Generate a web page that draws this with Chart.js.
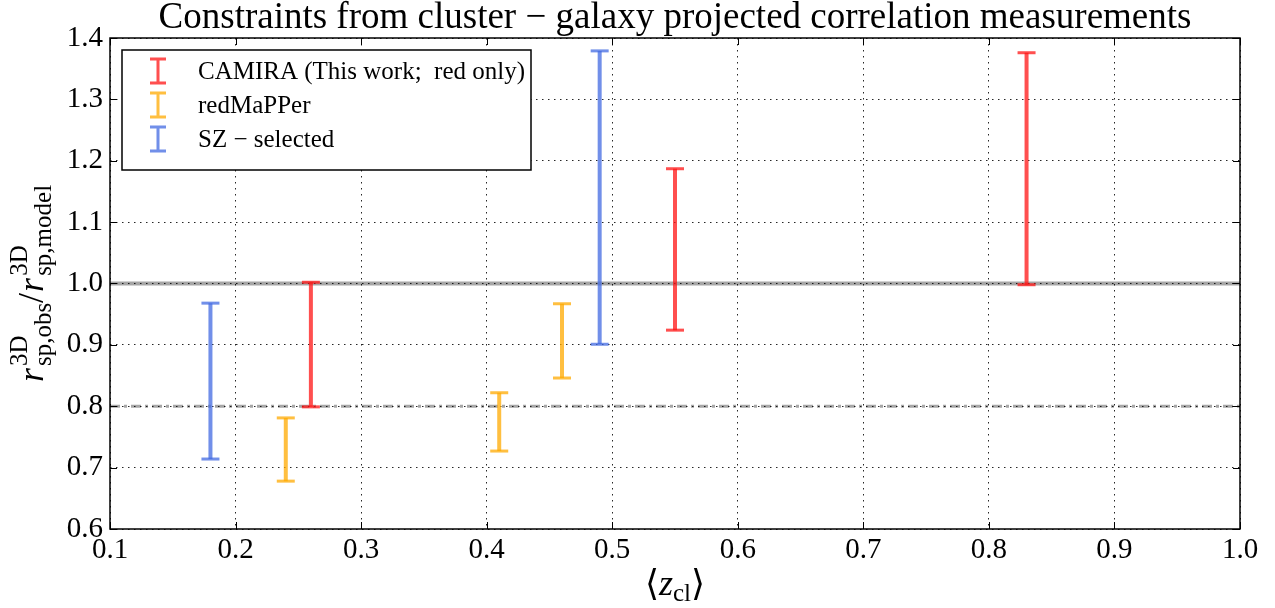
<!DOCTYPE html>
<html lang="en">
<head>
<meta charset="UTF-8">
<title>Constraints from cluster - galaxy projected correlation measurements</title>
<script src="https://cdn.jsdelivr.net/npm/chart.js"></script>
<style>
    html, body { margin: 0; padding: 0; background: #fff; }
    canvas { display: block; }
</style>
</head>
<body>
<canvas id="chart" width="1275" height="608"></canvas>
<script>
    // error bar ends (z, lower, upper)
    const camiraZ  = [0.26, 0.55, 0.83];
    const camiraLo = [0.799, 0.924, 0.998];
    const camiraHi = [1.002, 1.187, 1.376];

    const redmapperZ  = [0.24, 0.41, 0.46];
    const redmapperLo = [0.678, 0.727, 0.846];
    const redmapperHi = [0.781, 0.822, 0.967];

    const szZ  = [0.18, 0.49];
    const szLo = [0.714, 0.901];
    const szHi = [0.968, 1.379];

    const seriesNames = ['CAMIRA (This work;  red only)', 'redMaPPer', 'SZ \u2212 selected'];
    const refLevels = [1.0, 0.8];
    const xRange = [0.1, 1.0];
    const yRange = [0.6, 1.4];

    const serif = '"Liberation Serif", "DejaVu Serif", serif';
    const colors = ['rgba(255,20,20,0.75)', 'rgba(255,170,0,0.75)', 'rgba(65,105,225,0.75)'];

    function errorPoints(z, lo, hi) {
        const pts = [];
        z.forEach((x, i) => {
            pts.push({ x: x, y: lo[i] }, { x: x, y: hi[i] }, { x: x, y: null });
        });
        return pts;
    }

    function errorSet(label, color, z, lo, hi) {
        return {
            label: label,
            data: errorPoints(z, lo, hi),
            borderColor: color,
            borderWidth: 4,
            pointStyle: 'line',
            pointRadius: 9,
            pointHoverRadius: 9,
            pointBorderWidth: 3,
            pointBorderColor: color,
            pointBackgroundColor: color,
            spanGaps: false,
            fill: false,
            order: 1
        };
    }

    function refSet(level, dash, width) {
        return {
            label: 'ref',
            data: [{ x: xRange[0], y: level }, { x: xRange[1], y: level }],
            borderColor: 'rgba(0,0,0,0.35)',
            borderWidth: width,
            borderDash: dash,
            pointRadius: 0,
            fill: false,
            order: 2
        };
    }

    // math-ish text runs: plain pieces and stacked sup/sub pieces
    function runWidth(ctx, parts) {
        let w = 0;
        parts.forEach(p => {
            if (p.sup !== undefined) {
                ctx.font = p.size + 'px ' + serif;
                w += Math.max(ctx.measureText(p.sup).width, ctx.measureText(p.sub).width);
            } else {
                ctx.font = (p.italic ? 'italic ' : '') + p.size + 'px ' + serif;
                w += ctx.measureText(p.t).width + (p.gap || 0);
            }
        });
        return w;
    }

    function drawRun(ctx, parts, x0, y0) {
        let x = x0;
        parts.forEach(p => {
            if (p.sup !== undefined) {
                ctx.font = p.size + 'px ' + serif;
                ctx.fillText(p.sup, x, y0 - 16);
                ctx.fillText(p.sub, x, y0 + 8);
                x += Math.max(ctx.measureText(p.sup).width, ctx.measureText(p.sub).width);
            } else {
                ctx.font = (p.italic ? 'italic ' : '') + p.size + 'px ' + serif;
                ctx.fillText(p.t, x, y0 + (p.dy || 0));
                x += ctx.measureText(p.t).width + (p.gap || 0);
            }
        });
    }

    const frame = {
        id: 'frame',
        afterDraw(chart) {
            const { ctx, chartArea: a, scales: { x, y } } = chart;
            ctx.save();

            // box round the plot
            ctx.strokeStyle = '#000';
            ctx.lineWidth = 1.5;
            ctx.strokeRect(a.left, a.top, a.right - a.left, a.bottom - a.top);

            // inward ticks on all four sides
            ctx.lineWidth = 1;
            ctx.beginPath();
            x.ticks.forEach(t => {
                const px = Math.round(x.getPixelForValue(t.value)) + 0.5;
                ctx.moveTo(px, a.bottom); ctx.lineTo(px, a.bottom - 7);
                ctx.moveTo(px, a.top); ctx.lineTo(px, a.top + 7);
            });
            y.ticks.forEach(t => {
                const py = Math.round(y.getPixelForValue(t.value)) + 0.5;
                ctx.moveTo(a.left, py); ctx.lineTo(a.left + 7, py);
                ctx.moveTo(a.right, py); ctx.lineTo(a.right - 7, py);
            });
            ctx.stroke();

            // legend
            const lx = 122, ly = 50, lw = 409, lh = 120;
            ctx.fillStyle = '#fff';
            ctx.fillRect(lx, ly, lw, lh);
            ctx.strokeStyle = '#000';
            ctx.lineWidth = 1.5;
            ctx.strokeRect(lx, ly, lw, lh);
            seriesNames.forEach((name, i) => {
                const cy = 71 + i * 34;
                ctx.strokeStyle = colors[i];
                ctx.lineWidth = 3;
                ctx.beginPath();
                ctx.moveTo(158, cy - 12); ctx.lineTo(158, cy + 12);
                ctx.moveTo(150, cy - 12); ctx.lineTo(166, cy - 12);
                ctx.moveTo(150, cy + 12); ctx.lineTo(166, cy + 12);
                ctx.stroke();
                ctx.fillStyle = '#000';
                ctx.font = '25px ' + serif;
                ctx.textBaseline = 'alphabetic';
                ctx.fillText(name, 198, cy + 8);
            });

            // axis titles
            ctx.fillStyle = '#000';
            ctx.textBaseline = 'alphabetic';
            const yParts = [
                { t: 'r', italic: true, size: 36, gap: 2 },
                { sup: '3D', sub: 'sp,obs', size: 25 },
                { t: '/', size: 36, gap: 1 },
                { t: 'r', italic: true, size: 36, gap: 2 },
                { sup: '3D', sub: 'sp,model', size: 25 }
            ];
            const yw = runWidth(ctx, yParts);
            ctx.save();
            ctx.translate(43, (a.top + a.bottom) / 2);
            ctx.rotate(-Math.PI / 2);
            drawRun(ctx, yParts, -yw / 2, 0);
            ctx.restore();

            const xParts = [
                { t: '\u27E8', size: 36 },
                { t: 'z', italic: true, size: 36 },
                { t: 'cl', size: 25, dy: 6 },
                { t: '\u27E9', size: 36 }
            ];
            const xw = runWidth(ctx, xParts);
            drawRun(ctx, xParts, (a.left + a.right) / 2 - xw / 2, 595);

            ctx.restore();
        }
    };

    new Chart(document.getElementById('chart'), {
        type: 'line',
        data: {
            datasets: [
                errorSet(seriesNames[0], colors[0], camiraZ, camiraLo, camiraHi),
                errorSet(seriesNames[1], colors[1], redmapperZ, redmapperLo, redmapperHi),
                errorSet(seriesNames[2], colors[2], szZ, szLo, szHi),
                refSet(refLevels[0], [], 4),
                refSet(refLevels[1], [10, 4, 3, 4], 3)
            ]
        },
        options: {
            responsive: false,
            animation: false,
            layout: { padding: { left: 0, right: 35, top: 0, bottom: 0 } },
            plugins: {
                legend: { display: false },
                tooltip: { enabled: false },
                title: {
                    display: true,
                    fullSize: false,
                    text: 'Constraints from cluster \u2212 galaxy projected correlation measurements',
                    color: '#000',
                    font: { family: serif, size: 37, weight: 'normal', lineHeight: 1.0 },
                    padding: { top: 0, bottom: 1 }
                }
            },
            scales: {
                x: {
                    type: 'linear',
                    min: xRange[0],
                    max: xRange[1],
                    afterFit: s => { s.height = 79; },
                    ticks: {
                        stepSize: 0.1,
                        color: '#000',
                        padding: 4,
                        font: { family: serif, size: 29 },
                        callback: v => v.toFixed(1)
                    },
                    grid: { color: 'rgba(0,0,0,0.85)', lineWidth: 1, drawTicks: false },
                    border: { display: false, dash: [1.5, 4.5] }
                },
                y: {
                    min: yRange[0],
                    max: yRange[1],
                    afterFit: s => { s.width = 110; },
                    ticks: {
                        stepSize: 0.1,
                        color: '#000',
                        padding: 7,
                        font: { family: serif, size: 29 },
                        callback: v => v.toFixed(1)
                    },
                    grid: { color: 'rgba(0,0,0,0.85)', lineWidth: 1, drawTicks: false },
                    border: { display: false, dash: [1.5, 4.5] }
                }
            }
        },
        plugins: [frame]
    });
</script>
</body>
</html>
